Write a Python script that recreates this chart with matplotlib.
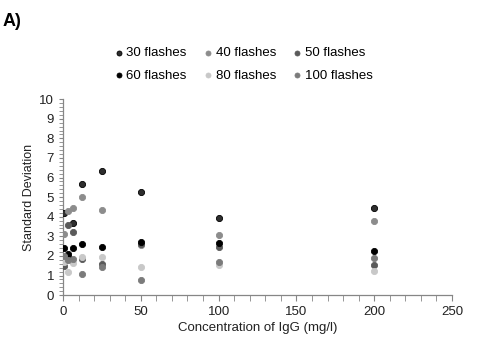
import numpy as np
import matplotlib.pyplot as plt
from matplotlib.ticker import MultipleLocator

plt.rcParams['font.family'] = ['Liberation Sans', 'DejaVu Sans']

# IgG concentrations (mg/l)
conc = [0.78, 3.125, 6.25, 12.5, 25, 50, 100, 200]

# standard deviation per number of flashes
sd_30 = [4.20, 1.95, 3.69, 5.66, 6.33, 5.24, 3.91, 4.47]
sd_40 = [3.10, 4.28, 4.47, 5.03, 4.34, 2.55, 3.06, 3.78]
sd_50 = [1.48, 3.57, 3.23, 1.85, 1.60, 2.60, 2.46, 1.53]
sd_60 = [2.40, 2.08, 2.38, 2.62, 2.48, 2.72, 2.67, 2.26]
sd_80 = [1.70, 1.19, 1.62, 1.92, 1.97, 1.45, 1.55, 1.25]
sd_100 = [2.00, 1.79, 1.82, 1.10, 1.45, 0.77, 1.70, 1.87]

labels = ["30 flashes", "40 flashes", "50 flashes", "60 flashes", "80 flashes", "100 flashes"]
series = [sd_30, sd_40, sd_50, sd_60, sd_80, sd_100]
colors = ["#2e2e2e", "#8c8c8c", "#5a5a5a", "#000000", "#c8c8c8", "#7b7b7b"]
edges = ["#000000", "#8c8c8c", "#5a5a5a", "#000000", "#c8c8c8", "#7b7b7b"]

fig = plt.figure(figsize=(5, 3.48), dpi=100)
ax = fig.add_axes([0.126, 0.152, 0.778, 0.563])

handles = []
for y, c, e, lab in zip(series, colors, edges, labels):
    h = ax.scatter(conc, y, s=20, color=c, edgecolors=e, linewidths=0.6, label=lab, zorder=3)
    handles.append(h)

ax.set_xlim(0, 250)
ax.set_ylim(0, 10)
ax.xaxis.set_major_locator(MultipleLocator(50))
ax.xaxis.set_minor_locator(MultipleLocator(10))
ax.yaxis.set_major_locator(MultipleLocator(1))
ax.yaxis.set_minor_locator(MultipleLocator(0.2))

for s in ["top", "right"]:
    ax.spines[s].set_visible(False)
for s in ["left", "bottom"]:
    ax.spines[s].set_color("#868686")
    ax.spines[s].set_linewidth(0.9)
ax.tick_params(which="both", colors="#868686", labelcolor="#222222", labelsize=9.5)
ax.tick_params(axis="x", which="both", direction="out", length=4)
ax.tick_params(axis="y", which="both", direction="out", length=3)

ax.set_xlabel("Concentration of IgG (mg/l)", fontsize=9.5, color="#222222", labelpad=3)
ax.set_ylabel("Standard Deviation", fontsize=9, color="#222222", labelpad=3)

# legend, filled row-wise
order = [0, 3, 1, 4, 2, 5]
fig.legend([handles[i] for i in order], [labels[i] for i in order],
           ncol=3, loc="center", bbox_to_anchor=(0.485, 0.815), frameon=False,
           fontsize=9.5, markerscale=0.8, handletextpad=0.1, handlelength=1.0,
           columnspacing=1.1, labelspacing=0.75)

fig.text(0.006, 0.925, "A)", fontsize=13, fontweight="bold")

fig.savefig("out.png", dpi=100)
